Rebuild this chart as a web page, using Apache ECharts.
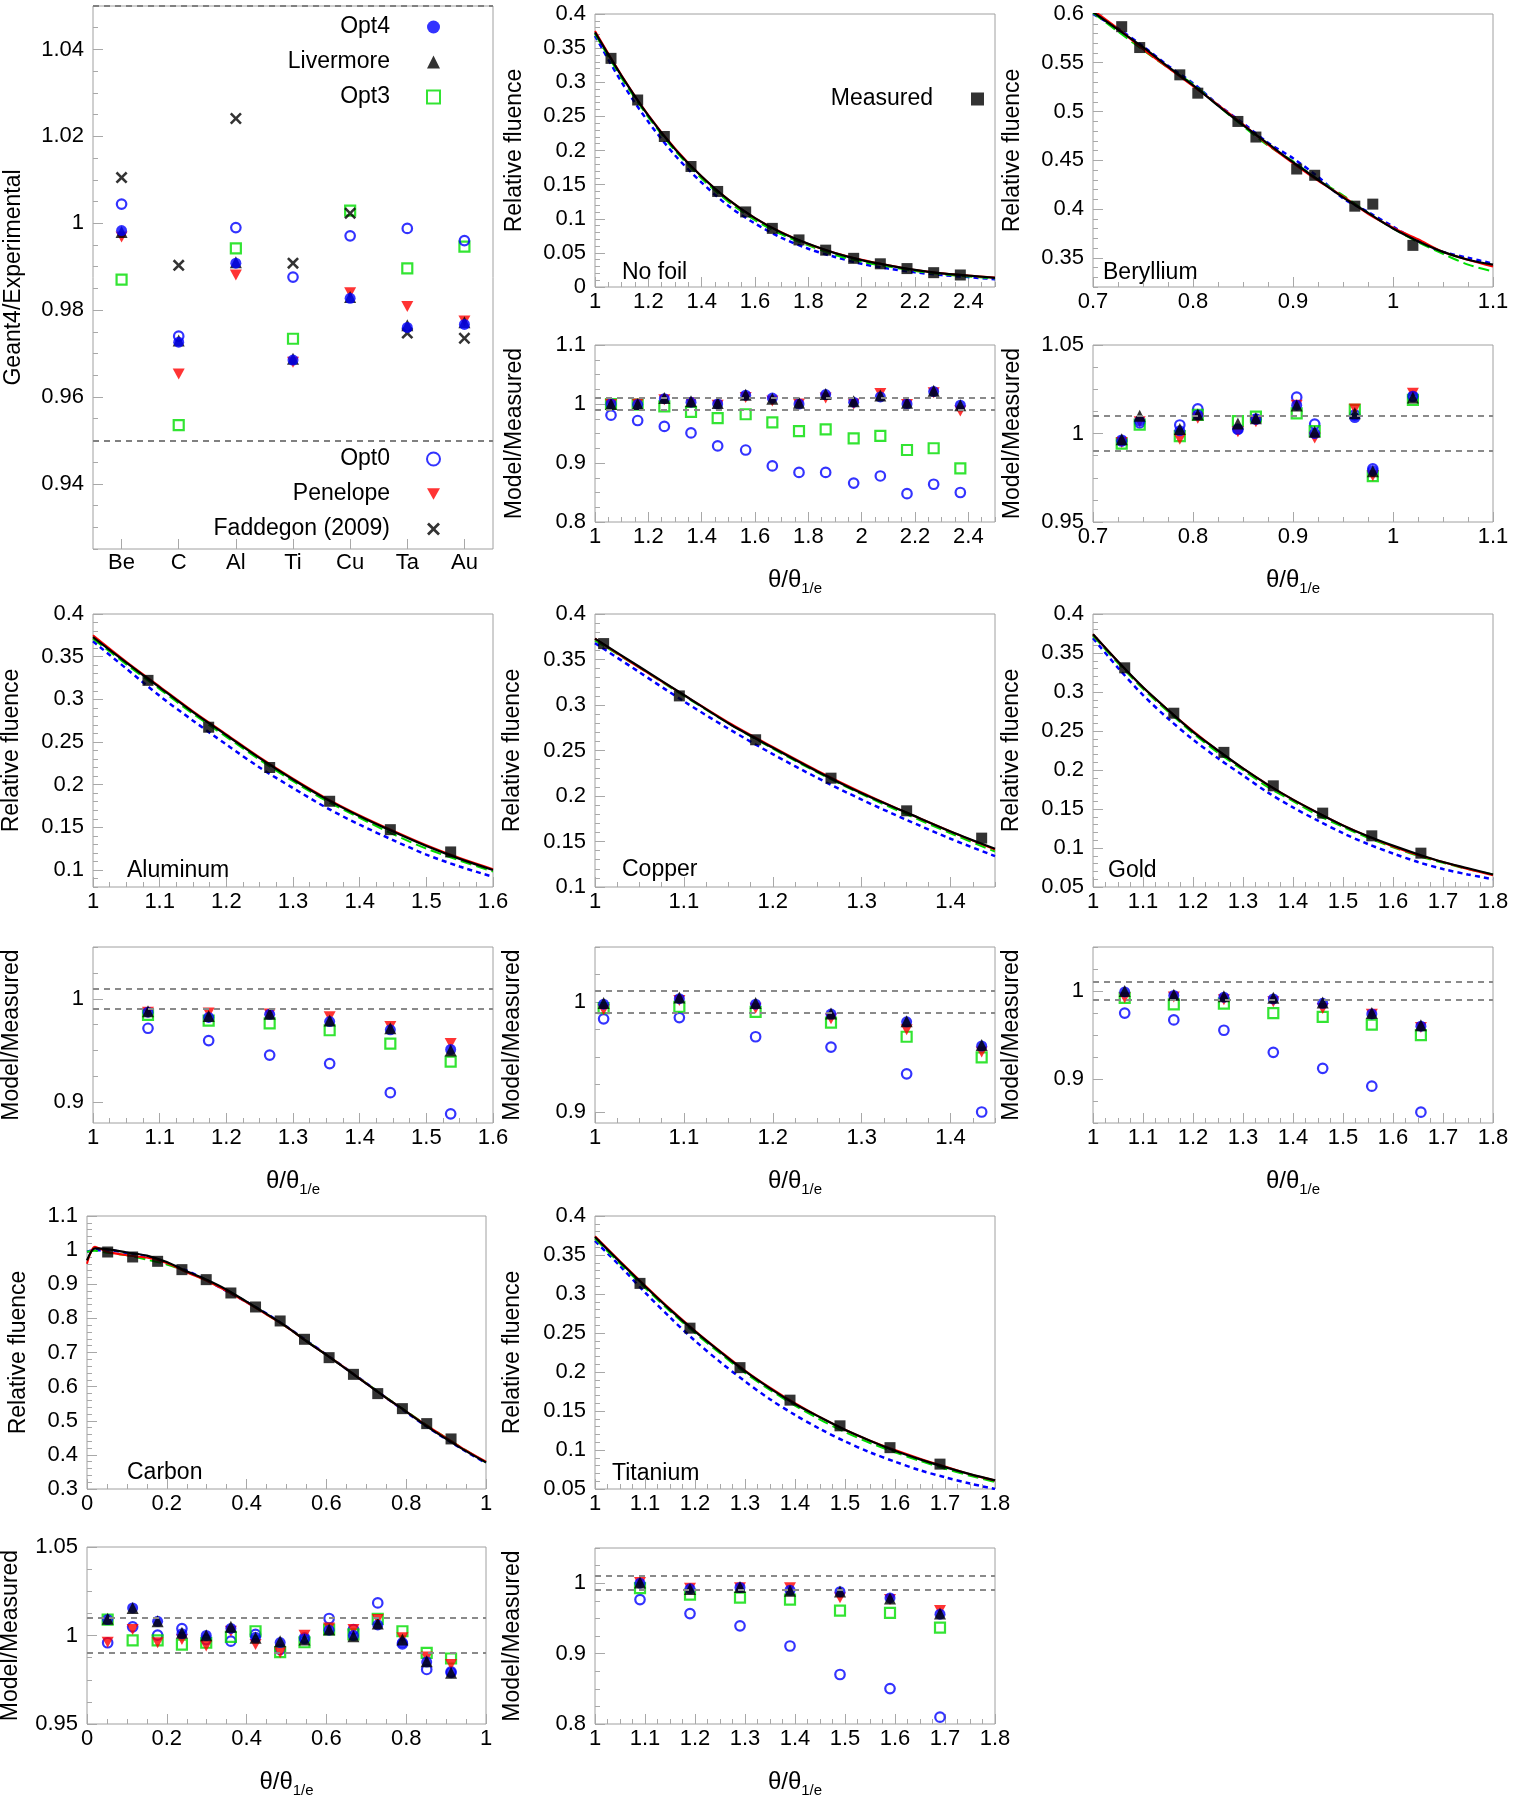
<!DOCTYPE html>
<html><head><meta charset="utf-8">
<script src="https://cdn.jsdelivr.net/npm/echarts@6/dist/echarts.min.js"></script>
<style>html,body{margin:0;padding:0;background:#fff}#c{width:1516px;height:1800px}</style>
</head><body><div id="c"></div><script>
// ---------------- DATA ----------------
// Summary panel
const CATS = ['Be','C','Al','Ti','Cu','Ta','Au'];
const SUM_OPT4 = [0.9983, 0.9726, 0.9908, 0.9685, 0.9827, 0.9760, 0.9767];
const SUM_LIV  = [0.9980, 0.9730, 0.9910, 0.9688, 0.9830, 0.9765, 0.9772];
const SUM_OPT3 = [0.9870, 0.9535, 0.9942, 0.9734, 1.0029, 0.9896, 0.9946];
const SUM_OPT0 = [1.0044, 0.9740, 0.9990, 0.9876, 0.9971, 0.9988, 0.9960];
const SUM_PEN  = [0.9968, 0.9653, 0.9881, 0.9680, 0.9840, 0.9808, 0.9775];
const SUM_FAD  = [1.0105, 0.9903, 1.0241, 0.9908, 1.0023, 0.9747, 0.9735];
const SUM_YTICKS = [0.94, 0.96, 0.98, 1, 1.02, 1.04];
const SUM_REF = [0.95, 1.05];
const REF_BAND = [0.99, 1.01];

// No foil
const NF_XTICKS = [1,1.2,1.4,1.6,1.8,2,2.2,2.4];
const NF_YTICKS = [0,0.05,0.1,0.15,0.2,0.25,0.3,0.35,0.4];
const NF_RTICKS = [0.8,0.9,1,1.1];
const NF_MX = [1.06,1.16,1.26,1.36,1.46,1.565,1.665,1.765,1.865,1.97,2.07,2.17,2.27,2.37];
const NF_MY = [0.335,0.274,0.2205,0.1766,0.140,0.110,0.0859,0.069,0.054,0.042,0.034,0.027,0.021,0.0176];
const NF_CX = [1.0,1.1,1.2,1.3,1.4,1.5,1.6,1.7,1.8,1.9,2.0,2.1,2.2,2.3,2.4,2.5];
const NF_BLACK = [0.373,0.309,0.251,0.202,0.162,0.128,0.101,0.0795,0.0633,0.0497,0.0394,0.0318,0.0251,0.020,0.0168,0.0135];
const NF_RED   = [0.375,0.310,0.252,0.203,0.162,0.128,0.101,0.080,0.063,0.050,0.040,0.032,0.025,0.0202,0.0168,0.014];
const NF_GREEN = [0.371,0.306,0.249,0.200,0.159,0.125,0.098,0.077,0.061,0.047,0.037,0.030,0.0235,0.0187,0.0155,0.0125];
const NF_BLUE  = [0.368,0.300,0.242,0.193,0.153,0.119,0.093,0.072,0.056,0.044,0.034,0.027,0.0215,0.0175,0.0145,0.0115];
const NF_R_OPT0 = [0.981,0.972,0.962,0.951,0.929,0.922,0.895,0.884,0.884,0.866,0.878,0.848,0.864,0.850];
const NF_R_OPT3 = [1.000,0.999,0.996,0.9865,0.976,0.9826,0.969,0.954,0.957,0.9416,0.946,0.922,0.925,0.891];
const NF_R_PEN  = [0.999,1.000,1.007,1.002,0.998,1.011,1.005,1.000,1.010,1.000,1.018,0.999,1.019,0.988];
const NF_R_OPT4 = [1.000,0.999,1.009,1.003,1.000,1.015,1.010,1.000,1.016,1.003,1.012,1.000,1.021,0.998];
const NF_R_LIV  = [1.000,1.000,1.010,1.0045,1.0017,1.0157,1.009,1.0022,1.0169,1.0045,1.0146,1.0022,1.0225,0.9978];

// Beryllium
const BE_XTICKS = [0.7,0.8,0.9,1,1.1];
const BE_YTICKS = [0.35,0.4,0.45,0.5,0.55,0.6];
const BE_RTICKS = [0.95,1,1.05];
const BE_MX = [0.7287,0.7467,0.7868,0.8048,0.8449,0.8629,0.9037,0.9217,0.9618,0.9798,1.0199];
const BE_MY = [0.587,0.5656,0.5376,0.5188,0.4898,0.4738,0.441,0.4346,0.4029,0.405,0.3627];
const BE_CX = [0.7,0.725,0.75,0.775,0.8,0.825,0.85,0.875,0.9,0.925,0.95,0.975,1.0,1.025,1.05,1.075,1.1];
const BE_BLACK = [0.602,0.584,0.566,0.546,0.527,0.506,0.486,0.467,0.448,0.430,0.412,0.396,0.380,0.367,0.356,0.348,0.343];
const BE_RED   = [0.604,0.585,0.564,0.545,0.526,0.507,0.487,0.466,0.447,0.429,0.413,0.395,0.381,0.369,0.356,0.348,0.341];
const BE_GREEN = [0.601,0.582,0.563,0.545,0.528,0.506,0.485,0.465,0.449,0.430,0.414,0.396,0.380,0.366,0.354,0.343,0.336];
const BE_BLUE  = [0.600,0.585,0.567,0.547,0.529,0.507,0.488,0.468,0.452,0.433,0.411,0.397,0.382,0.367,0.356,0.350,0.344];
const BE_R_OPT0 = [0.9962,1.006,1.0048,1.0139,1.0023,1.0082,1.0205,1.0053,1.0105,0.980,1.0209];
const BE_R_OPT3 = [0.9943,1.005,0.9985,1.0105,1.007,1.0095,1.0114,1.0013,1.0133,0.9759,1.019];
const BE_R_PEN  = [0.9949,1.0067,0.9968,1.0086,1.001,1.0067,1.016,0.9975,1.0139,0.9762,1.0228];
const BE_R_OPT4 = [0.9956,1.007,1.0015,1.0105,1.0025,1.008,1.016,1.000,1.009,0.979,1.021];
const BE_R_LIV  = [0.9968,1.010,1.0025,1.0108,1.0057,1.0086,1.0158,1.001,1.0114,0.9787,1.0203];

// Aluminum
const AL_XTICKS = [1,1.1,1.2,1.3,1.4,1.5,1.6];
const AL_YTICKS = [0.1,0.15,0.2,0.25,0.3,0.35,0.4];
const AL_RTICKS = [0.9,1];
const AL_MX = [1.0825,1.1735,1.265,1.355,1.446,1.5365];
const AL_MY = [0.3222,0.2673,0.2201,0.1805,0.1472,0.1211];
const AL_CX = [1.0,1.05,1.1,1.15,1.2,1.25,1.3,1.35,1.4,1.45,1.5,1.55,1.6];
const AL_BLACK = [0.373,0.343,0.314,0.285,0.258,0.231,0.206,0.183,0.163,0.145,0.128,0.113,0.100];
const AL_RED   = [0.375,0.344,0.315,0.286,0.259,0.232,0.207,0.184,0.164,0.146,0.129,0.114,0.101];
const AL_GREEN = [0.371,0.341,0.312,0.283,0.256,0.229,0.204,0.181,0.161,0.142,0.125,0.111,0.098];
const AL_BLUE  = [0.368,0.336,0.304,0.275,0.247,0.220,0.196,0.173,0.153,0.135,0.118,0.104,0.092];
const AL_R_OPT0 = [0.9715,0.9596,0.9456,0.9374,0.9093,0.8889];
const AL_R_OPT3 = [0.9844,0.9789,0.9763,0.9696,0.9567,0.9393];
const AL_R_PEN  = [0.987,0.9863,0.9852,0.9826,0.9733,0.9567];
const AL_R_OPT4 = [0.987,0.982,0.985,0.978,0.970,0.951];
const AL_R_LIV  = [0.988,0.9833,0.9856,0.9789,0.9715,0.950];

// Copper
const CU_XTICKS = [1,1.1,1.2,1.3,1.4];
const CU_YTICKS = [0.1,0.15,0.2,0.25,0.3,0.35,0.4];
const CU_RTICKS = [0.9,1];
const CU_MX = [1.0097,1.0949,1.1807,1.2655,1.3506,1.435];
const CU_MY = [0.3675,0.310,0.2618,0.2196,0.1837,0.1537];
const CU_CX = [1.0,1.05,1.1,1.15,1.2,1.25,1.3,1.35,1.4,1.45];
const CU_BLACK = [0.373,0.342,0.311,0.280,0.253,0.227,0.203,0.182,0.161,0.142];
const CU_RED   = [0.373,0.341,0.311,0.281,0.254,0.228,0.204,0.182,0.161,0.141];
const CU_GREEN = [0.371,0.341,0.310,0.280,0.252,0.226,0.202,0.180,0.159,0.139];
const CU_BLUE  = [0.368,0.336,0.304,0.274,0.246,0.220,0.196,0.174,0.153,0.134];
const CU_R_OPT0 = [0.9847,0.9858,0.9684,0.959,0.9347,0.900];
const CU_R_OPT3 = [0.9944,0.9955,0.991,0.9813,0.9684,0.9497];
const CU_R_PEN  = [0.993,1.0014,0.9944,0.9847,0.9747,0.9545];
const CU_R_OPT4 = [0.998,1.003,0.998,0.989,0.982,0.960];
const CU_R_LIV  = [0.999,1.004,0.999,0.9896,0.9826,0.9608];

// Gold
const AU_XTICKS = [1,1.1,1.2,1.3,1.4,1.5,1.6,1.7,1.8];
const AU_YTICKS = [0.05,0.1,0.15,0.2,0.25,0.3,0.35,0.4];
const AU_RTICKS = [0.9,1];
const AU_MX = [1.0634,1.1616,1.2618,1.3606,1.4594,1.5576,1.6558];
const AU_MY = [0.331,0.2728,0.2226,0.1797,0.1447,0.1156,0.0934];
const AU_CX = [1.0,1.05,1.1,1.15,1.2,1.25,1.3,1.35,1.4,1.45,1.5,1.55,1.6,1.65,1.7,1.75,1.8];
const AU_BLACK = [0.374,0.339,0.306,0.277,0.249,0.225,0.202,0.181,0.162,0.145,0.129,0.115,0.103,0.092,0.082,0.074,0.066];
const AU_RED   = [0.374,0.339,0.306,0.277,0.250,0.225,0.202,0.181,0.162,0.145,0.129,0.115,0.102,0.091,0.082,0.073,0.065];
const AU_GREEN = [0.372,0.337,0.304,0.275,0.247,0.222,0.200,0.178,0.160,0.142,0.127,0.113,0.101,0.090,0.081,0.073,0.066];
const AU_BLUE  = [0.369,0.331,0.296,0.266,0.239,0.215,0.193,0.171,0.152,0.135,0.119,0.105,0.093,0.082,0.073,0.066,0.060];
const AU_R_OPT0 = [0.9749,0.9671,0.9554,0.9303,0.9121,0.8918,0.8623];
const AU_R_OPT3 = [0.9922,0.9848,0.9857,0.9749,0.9706,0.9619,0.9498];
const AU_R_PEN  = [0.9922,0.9931,0.990,0.9879,0.9801,0.9736,0.9584];
const AU_R_OPT4 = [0.999,0.995,0.993,0.991,0.986,0.974,0.960];
const AU_R_LIV  = [1.000,0.9957,0.9939,0.9922,0.987,0.9749,0.961];

// Carbon
const C_XTICKS = [0,0.2,0.4,0.6,0.8,1];
const C_YTICKS = [0.3,0.4,0.5,0.6,0.7,0.8,0.9,1,1.1];
const C_RTICKS = [0.95,1,1.05];
const C_MX = [0.0518,0.1144,0.177,0.2379,0.2988,0.3606,0.4224,0.4841,0.5451,0.6068,0.6678,0.7287,0.7905,0.8514,0.9124];
const C_MY = [0.9945,0.9799,0.9672,0.9428,0.9135,0.8744,0.8334,0.7924,0.7387,0.6849,0.636,0.5795,0.5355,0.4916,0.4467];
const C_CX = [0,0.02,0.05,0.1,0.15,0.2,0.25,0.3,0.35,0.4,0.45,0.5,0.55,0.6,0.65,0.7,0.75,0.8,0.85,0.9,0.95,1.0];
const C_BLACK = [0.970,1.005,1.003,0.993,0.984,0.965,0.938,0.913,0.884,0.849,0.813,0.776,0.733,0.693,0.651,0.609,0.567,0.527,0.485,0.447,0.411,0.378];
const C_RED   = [0.960,1.010,0.995,0.985,0.978,0.962,0.935,0.910,0.880,0.847,0.811,0.775,0.733,0.693,0.652,0.609,0.567,0.527,0.487,0.450,0.413,0.380];
const C_GREEN = [0.995,0.998,0.992,0.985,0.972,0.958,0.936,0.911,0.882,0.848,0.812,0.775,0.734,0.693,0.652,0.610,0.568,0.528,0.488,0.450,0.413,0.378];
const C_BLUE  = [0.995,1.000,1.000,0.992,0.982,0.962,0.940,0.912,0.880,0.848,0.814,0.776,0.735,0.694,0.652,0.610,0.567,0.525,0.484,0.446,0.410,0.376];
const C_R_OPT0 = [0.9959,1.0049,1.0002,1.0039,0.9977,0.9968,1.0006,0.9921,0.9987,1.0096,1.0034,1.0184,0.9953,0.9808,0.9795];
const C_R_OPT3 = [1.009,0.9972,0.9972,0.9949,0.9959,0.9992,1.0024,0.9906,0.9962,1.0034,1.0006,1.0094,1.0024,0.9902,0.987];
const C_R_PEN  = [0.9962,1.0034,0.9959,0.9977,0.994,1.0024,0.9949,0.9902,1.0002,1.0043,1.0034,1.009,0.9987,0.9878,0.9836];
const C_R_OPT4 = [1.009,1.0156,1.008,1.001,1.000,1.004,0.999,0.996,0.998,1.003,1.000,1.006,0.996,0.985,0.979];
const C_R_LIV  = [1.0094,1.0156,1.0081,1.0015,1.0002,1.0049,0.9987,0.9968,0.9977,1.0034,0.9996,1.0068,0.9977,0.9855,0.9789];

// Titanium
const TI_XTICKS = [1,1.1,1.2,1.3,1.4,1.5,1.6,1.7,1.8];
const TI_YTICKS = [0.05,0.1,0.15,0.2,0.25,0.3,0.35,0.4];
const TI_RTICKS = [0.8,0.9,1];
const TI_MX = [1.09,1.19,1.29,1.39,1.49,1.59,1.69];
const TI_MY = [0.3136,0.2562,0.2056,0.1639,0.131,0.103,0.0819];
const TI_CX = [1.0,1.05,1.1,1.15,1.2,1.25,1.3,1.35,1.4,1.45,1.5,1.55,1.6,1.65,1.7,1.75,1.8];
const TI_BLACK = [0.373,0.341,0.310,0.280,0.252,0.226,0.201,0.179,0.159,0.142,0.126,0.112,0.099,0.088,0.078,0.069,0.061];
const TI_RED   = [0.374,0.342,0.311,0.281,0.253,0.227,0.202,0.180,0.160,0.142,0.126,0.112,0.100,0.089,0.079,0.069,0.061];
const TI_GREEN = [0.371,0.339,0.308,0.278,0.250,0.224,0.199,0.177,0.157,0.139,0.123,0.109,0.097,0.086,0.076,0.067,0.059];
const TI_BLUE  = [0.368,0.336,0.302,0.270,0.240,0.213,0.188,0.165,0.145,0.127,0.111,0.097,0.085,0.074,0.065,0.057,0.050];
const TI_R_OPT0 = [0.9768,0.9568,0.9395,0.9108,0.8703,0.8503,0.8097];
const TI_R_OPT3 = [0.993,0.9838,0.9795,0.9768,0.9611,0.9578,0.9368];
const TI_R_PEN  = [1.001,0.993,0.9935,0.9935,0.9795,0.9768,0.9611];
const TI_R_OPT4 = [1.000,0.992,0.994,0.990,0.988,0.979,0.956];
const TI_R_LIV  = [1.001,0.9919,0.9946,0.9892,0.9881,0.9784,0.9568];

// ---------------- STYLE / LAYOUT ----------------
const FONT = '"Liberation Sans", Arial, Helvetica, sans-serif';
const BLUE = '#0000ff', RED = '#ff0000', GREEN = '#00dd00', BLACK = '#000000';
const TICK_COLOR = '#a8a8a8';
const FRAME_COLOR = '#a0a0a0';
const SYM = {
  opt4: {symbol:'circle', symbolSize:11, itemStyle:{color:BLUE}},
  liv:  {symbol:'triangle', symbolSize:12, itemStyle:{color:BLACK}},
  opt3: {symbol:'rect', symbolSize:10, itemStyle:{color:'rgba(0,0,0,0)', borderColor:GREEN, borderWidth:2.2}},
  opt0: {symbol:'circle', symbolSize:9.5, itemStyle:{color:'rgba(0,0,0,0)', borderColor:BLUE, borderWidth:2.2}},
  pen:  {symbol:'path://M0,0L10,0L5,9Z', symbolSize:[12,11], itemStyle:{color:RED}},
  fad:  {symbol:'path://M0,1.5L1.5,0L5,3.5L8.5,0L10,1.5L6.5,5L10,8.5L8.5,10L5,6.5L1.5,10L0,8.5L3.5,5Z', symbolSize:12, itemStyle:{color:BLACK}},
  meas: {symbol:'rect', symbolSize:11, itemStyle:{color:BLACK}}
};
const CURVE_STYLES = [
  {color:BLUE, width:2.5, type:[5,4]},
  {color:GREEN, width:2, type:[11,5]},
  {color:RED, width:2, type:'solid'},
  {color:BLACK, width:2.2, type:'solid'}
];

const grids = [], xAxes = [], yAxes = [], series = [], graphics = [];
function clone(o){ return JSON.parse(JSON.stringify(o)); }
function fmt(v){ return String(parseFloat(Number(v).toFixed(4))); }
function minorVals(min, max, step){
  const out = []; const k0 = Math.ceil(min/step - 1e-9);
  for (let k = k0; k*step <= max + 1e-9; k++) out.push(+(k*step).toFixed(6));
  return out;
}
const XNAME = '{a|θ/θ}{b|1/e}';
const XNAME_STYLE = {color:'#000', fontFamily:FONT, rich:{
  a:{fontSize:24, fontFamily:FONT, color:'#000', lineHeight:20, verticalAlign:'top'},
  b:{fontSize:15, fontFamily:FONT, color:'#000', lineHeight:28, verticalAlign:'bottom'}
}};

function addGrid(g){
  grids.push({left:g[0], top:g[1], width:g[2], height:g[3], show:true, borderColor:FRAME_COLOR, borderWidth:1, backgroundColor:'rgba(0,0,0,0)', containLabel:false, outerBoundsMode:'none'});
  return grids.length - 1;
}
function addValueAxis(dim, gi, a){
  const pos = dim === 'x' ? 'bottom' : 'left';
  const main = {
    type:'value', gridIndex:gi, position:pos, min:a.min, max:a.max,
    axisLine:{show:false, onZero:false},
    axisTick:{show:true, inside:true, length:10, customValues:a.ticks, lineStyle:{color:TICK_COLOR, width:1}},
    axisLabel:{show:true, customValues:a.ticks, formatter:fmt, fontSize:22, fontFamily:FONT, color:'#000', margin: dim === 'x' ? 4 : 9},
    splitLine:{show:false}
  };
  if (dim === 'y' && a.name) {
    Object.assign(main, {name:a.name, nameLocation:'middle', nameGap:a.gap, nameTextStyle:{fontSize:23, fontFamily:FONT, color:'#000'}});
  }
  if (dim === 'x' && a.name) {
    Object.assign(main, {name:XNAME, nameLocation:'middle', nameGap:46, nameTextStyle:XNAME_STYLE});
  }
  const minor = {
    type:'value', gridIndex:gi, position:pos, min:a.min, max:a.max,
    axisLine:{show:false, onZero:false},
    axisTick:{show:true, inside:true, length:5, customValues:minorVals(a.min, a.max, a.minor), lineStyle:{color:TICK_COLOR, width:1}},
    axisLabel:{show:false}, splitLine:{show:false}
  };
  const arr = dim === 'x' ? xAxes : yAxes;
  arr.push(main); const idx = arr.length - 1; arr.push(minor);
  return idx;
}
function zip(xs, ys){ return xs.map((x, i) => [x, ys[i]]); }
function pts(name, sym, data, xi, yi, z){
  return Object.assign({type:'scatter', name, xAxisIndex:xi, yAxisIndex:yi, data, silent:true, z:z||3}, clone(sym));
}
function band(values, color, width){
  return {silent:true, symbol:['none','none'], label:{show:false}, animation:false,
    lineStyle:{color, width, type:[6,5]}, data: values.map(v => ({yAxis:v}))};
}

// ---- Summary panel ----
(function(){
  const gi = addGrid([93,6,400,543]);
  xAxes.push({type:'category', gridIndex:gi, position:'bottom', data:CATS,
    axisLine:{show:false, onZero:false},
    axisTick:{show:true, inside:true, alignWithLabel:true, length:10, lineStyle:{color:TICK_COLOR}},
    axisLabel:{fontSize:22, fontFamily:FONT, color:'#000', margin:3}, splitLine:{show:false}});
  const xi = xAxes.length - 1;
  const yi = addValueAxis('y', gi, {min:0.925, max:1.05, ticks:SUM_YTICKS, minor:0.005, name:'Geant4/Experimental', gap:68});
  series.push(Object.assign(pts('Opt3', SYM.opt3, SUM_OPT3, xi, yi, 3), {markLine: band(SUM_REF, '#808080', 2)}));
  series.push(pts('Opt0', SYM.opt0, SUM_OPT0, xi, yi, 3));
  series.push(pts('Faddegon (2009)', SYM.fad, SUM_FAD, xi, yi, 3));
  series.push(pts('Penelope', SYM.pen, SUM_PEN, xi, yi, 3));
  series.push(pts('Livermore', SYM.liv, SUM_LIV, xi, yi, 3));
  series.push(pts('Opt4', SYM.opt4, SUM_OPT4, xi, yi, 3));
})();

// ---- Fluence / ratio panels ----
const PANELS = [
  {grid:[595,14,400,273], x:{min:1,max:2.5,ticks:NF_XTICKS,minor:0.05}, y:{min:0,max:0.4,ticks:NF_YTICKS,minor:0.01,name:'Relative fluence',gap:69},
   cx:NF_CX, curves:[NF_BLUE,NF_GREEN,NF_RED,NF_BLACK], mx:NF_MX, my:NF_MY, label:['No foil',622,273]},
  {grid:[595,345,400,177], x:{min:1,max:2.5,ticks:NF_XTICKS,minor:0.05,name:true}, y:{min:0.8,max:1.1,ticks:NF_RTICKS,minor:0.025,name:'Model/Measured',gap:69},
   mx:NF_MX, ratios:[NF_R_OPT0,NF_R_OPT3,NF_R_PEN,NF_R_OPT4,NF_R_LIV]},
  {grid:[1093,14,400,273], x:{min:0.7,max:1.1,ticks:BE_XTICKS,minor:0.025}, y:{min:0.32,max:0.6,ticks:BE_YTICKS,minor:0.01,name:'Relative fluence',gap:69},
   cx:BE_CX, curves:[BE_BLUE,BE_GREEN,BE_RED,BE_BLACK], mx:BE_MX, my:BE_MY, label:['Beryllium',1103,273]},
  {grid:[1093,345,400,177], x:{min:0.7,max:1.1,ticks:BE_XTICKS,minor:0.025,name:true}, y:{min:0.95,max:1.05,ticks:BE_RTICKS,minor:0.0125,name:'Model/Measured',gap:69},
   mx:BE_MX, ratios:[BE_R_OPT0,BE_R_OPT3,BE_R_PEN,BE_R_OPT4,BE_R_LIV]},
  {grid:[93,614,400,273], x:{min:1,max:1.6,ticks:AL_XTICKS,minor:0.025}, y:{min:0.08,max:0.4,ticks:AL_YTICKS,minor:0.01,name:'Relative fluence',gap:70},
   cx:AL_CX, curves:[AL_BLUE,AL_GREEN,AL_RED,AL_BLACK], mx:AL_MX, my:AL_MY, label:['Aluminum',127,871]},
  {grid:[93,947,400,176], x:{min:1,max:1.6,ticks:AL_XTICKS,minor:0.025,name:true}, y:{min:0.88,max:1.05,ticks:AL_RTICKS,minor:0.025,name:'Model/Measured',gap:70},
   mx:AL_MX, ratios:[AL_R_OPT0,AL_R_OPT3,AL_R_PEN,AL_R_OPT4,AL_R_LIV]},
  {grid:[595,614,400,273], x:{min:1,max:1.45,ticks:CU_XTICKS,minor:0.025}, y:{min:0.1,max:0.4,ticks:CU_YTICKS,minor:0.01,name:'Relative fluence',gap:71},
   cx:CU_CX, curves:[CU_BLUE,CU_GREEN,CU_RED,CU_BLACK], mx:CU_MX, my:CU_MY, label:['Copper',622,870]},
  {grid:[595,947,400,176], x:{min:1,max:1.45,ticks:CU_XTICKS,minor:0.025,name:true}, y:{min:0.89,max:1.05,ticks:CU_RTICKS,minor:0.025,name:'Model/Measured',gap:71},
   mx:CU_MX, ratios:[CU_R_OPT0,CU_R_OPT3,CU_R_PEN,CU_R_OPT4,CU_R_LIV]},
  {grid:[1093,614,400,273], x:{min:1,max:1.8,ticks:AU_XTICKS,minor:0.025}, y:{min:0.05,max:0.4,ticks:AU_YTICKS,minor:0.01,name:'Relative fluence',gap:70},
   cx:AU_CX, curves:[AU_BLUE,AU_GREEN,AU_RED,AU_BLACK], mx:AU_MX, my:AU_MY, label:['Gold',1108,871]},
  {grid:[1093,947,400,176], x:{min:1,max:1.8,ticks:AU_XTICKS,minor:0.025,name:true}, y:{min:0.85,max:1.05,ticks:AU_RTICKS,minor:0.025,name:'Model/Measured',gap:70},
   mx:AU_MX, ratios:[AU_R_OPT0,AU_R_OPT3,AU_R_PEN,AU_R_OPT4,AU_R_LIV]},
  {grid:[87,1216,399,273], x:{min:0,max:1,ticks:C_XTICKS,minor:0.05}, y:{min:0.3,max:1.1,ticks:C_YTICKS,minor:0.02,name:'Relative fluence',gap:57},
   cx:C_CX, curves:[C_BLUE,C_GREEN,C_RED,C_BLACK], mx:C_MX, my:C_MY, label:['Carbon',127,1473]},
  {grid:[87,1547,399,177], x:{min:0,max:1,ticks:C_XTICKS,minor:0.05,name:true}, y:{min:0.95,max:1.05,ticks:C_RTICKS,minor:0.0125,name:'Model/Measured',gap:65},
   mx:C_MX, ratios:[C_R_OPT0,C_R_OPT3,C_R_PEN,C_R_OPT4,C_R_LIV]},
  {grid:[595,1216,400,273], x:{min:1,max:1.8,ticks:TI_XTICKS,minor:0.025}, y:{min:0.05,max:0.4,ticks:TI_YTICKS,minor:0.01,name:'Relative fluence',gap:71},
   cx:TI_CX, curves:[TI_BLUE,TI_GREEN,TI_RED,TI_BLACK], mx:TI_MX, my:TI_MY, label:['Titanium',612,1474]},
  {grid:[595,1548,400,176], x:{min:1,max:1.8,ticks:TI_XTICKS,minor:0.025,name:true}, y:{min:0.8,max:1.05,ticks:TI_RTICKS,minor:0.025,name:'Model/Measured',gap:71},
   mx:TI_MX, ratios:[TI_R_OPT0,TI_R_OPT3,TI_R_PEN,TI_R_OPT4,TI_R_LIV]}
];

PANELS.forEach(p => {
  const gi = addGrid(p.grid);
  const xi = addValueAxis('x', gi, p.x);
  const yi = addValueAxis('y', gi, p.y);
  if (p.curves) {
    p.curves.forEach((ys, k) => {
      const st = CURVE_STYLES[k];
      series.push({type:'line', name:'curve' + k, xAxisIndex:xi, yAxisIndex:yi, data:zip(p.cx, ys),
        showSymbol:false, symbol:'none', smooth:0.3, silent:true, z:2,
        lineStyle:{color:st.color, width:st.width, type:st.type}});
    });
    series.push(pts('Measured', SYM.meas, zip(p.mx, p.my), xi, yi, 3));
  }
  if (p.ratios) {
    const [o0, o3, pen, o4, liv] = p.ratios;
    series.push(Object.assign(pts('Opt0', SYM.opt0, zip(p.mx, o0), xi, yi, 3), {markLine: band(REF_BAND, '#8a8a8a', 2)}));
    series.push(pts('Opt3', SYM.opt3, zip(p.mx, o3), xi, yi, 3));
    series.push(pts('Penelope', SYM.pen, zip(p.mx, pen), xi, yi, 3));
    series.push(pts('Opt4', SYM.opt4, zip(p.mx, o4), xi, yi, 3));
    series.push(pts('Livermore', SYM.liv, zip(p.mx, liv), xi, yi, 3));
  }
  if (p.label) {
    graphics.push({type:'text', x:p.label[1], y:p.label[2], silent:true,
      style:{text:p.label[0], fontSize:23, fontFamily:FONT, fill:'#000', verticalAlign:'middle', align:'left'}});
  }
});

const LEG_BASE = {orient:'vertical', align:'right', padding:0, itemWidth:13, itemHeight:13, itemGap:9, selectedMode:false,
  textStyle:{fontSize:23, fontFamily:FONT, color:'#000', lineHeight:26, padding:[0,32,0,0]}};

const option = {
  animation:false,
  backgroundColor:'#ffffff',
  textStyle:{fontFamily:FONT},
  grid:grids, xAxis:xAxes, yAxis:yAxes, series,
  legend:[
    Object.assign(clone(LEG_BASE), {data:['Opt4','Livermore','Opt3'], right:1075, top:14}),
    Object.assign(clone(LEG_BASE), {data:['Opt0','Penelope','Faddegon (2009)'], right:1075, top:446}),
    Object.assign(clone(LEG_BASE), {data:['Measured'], right:532, top:86, textStyle:{fontSize:23, fontFamily:FONT, color:'#000', lineHeight:26, padding:[0,33,0,0]}})
  ],
  graphic:graphics
};
const chart = echarts.init(document.getElementById('c'), null, {renderer:'canvas'});
chart.setOption(option);
</script></body></html>
